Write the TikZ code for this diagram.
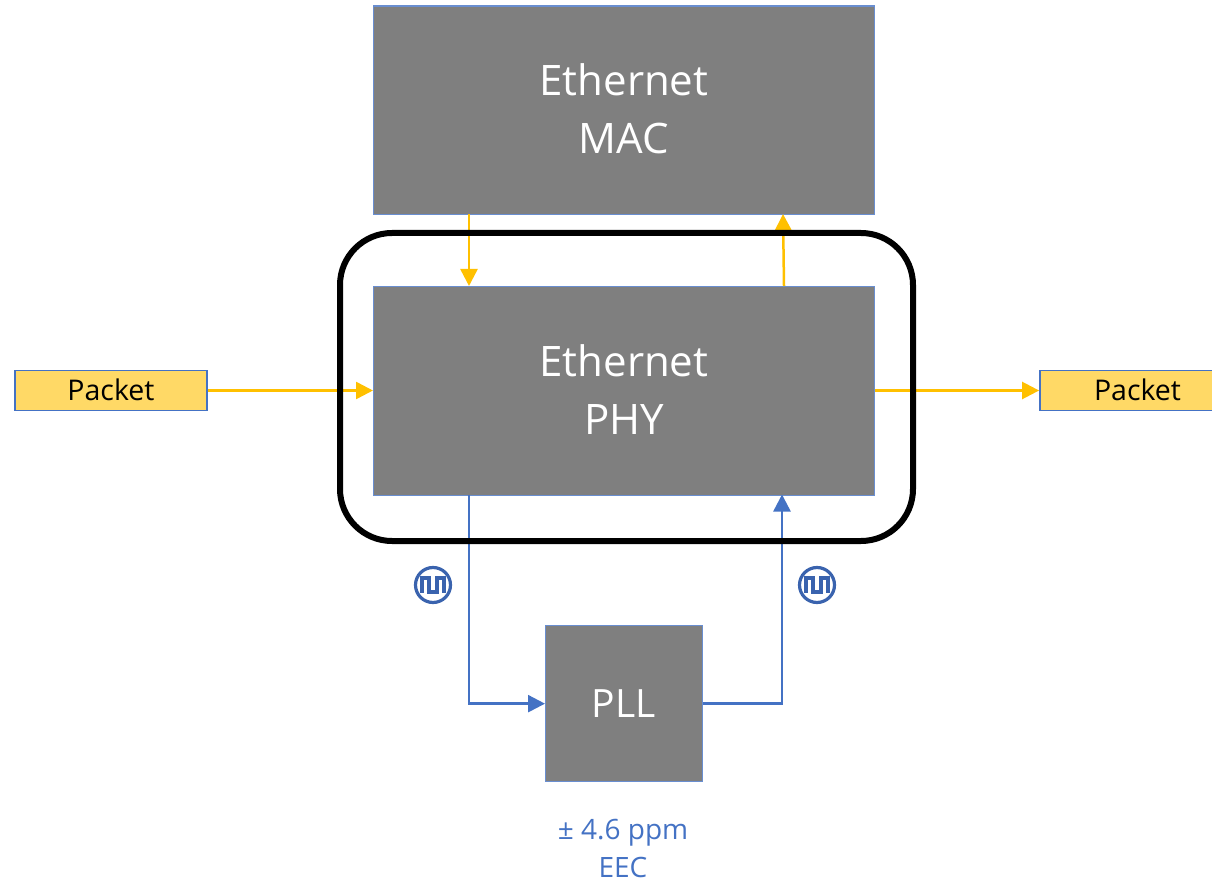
\documentclass[tikz,border=0pt]{standalone}
\usepackage{fontspec}
\setmainfont{Open Sans}
\usetikzlibrary{arrows.meta}
\definecolor{boxgray}{HTML}{7F7F7F}
\definecolor{edgeblue}{HTML}{4472C4}
\definecolor{iconblue}{HTML}{3A63AE}
\definecolor{gold}{HTML}{FFC000}
\definecolor{pktfill}{HTML}{FFD966}
\tikzset{
  x=1pt,y=-1pt,
  graybox/.style={draw=edgeblue!80!white,line width=1.3pt,fill=boxgray,text=white,font=\fontsize{42}{58}\selectfont,align=center,inner sep=0pt,anchor=north west},
  packet/.style={draw=edgeblue,line width=1.8pt,fill=pktfill,text=black,font=\fontsize{28.5}{30}\selectfont,inner sep=0pt,minimum height=40pt},
  goldline/.style={draw=gold,line width=2.5pt,-{Triangle[length=17pt,width=17pt]}},
  blueline/.style={draw=edgeblue,line width=2.5pt,-{Triangle[length=17pt,width=17pt]}},
  frameline/.style={draw=black,line width=6pt,rounded corners=52pt},
  clockicon/.pic={
    \draw[iconblue,line width=3.2pt] (0,0) circle[radius=17.5];
    \draw[iconblue,line width=3.2pt,line join=miter] (-11,8) -- (-11,-7) -- (-4,-7) -- (-4,7) -- (4,7) -- (4,-7) -- (11,-7) -- (11,8);
  }
}
\begin{document}
\begin{tikzpicture}
\useasboundingbox (0,0) rectangle (1212,882);
\node[graybox,minimum width=500.5pt,minimum height=208.5pt] (mac) at (373,5.5) {\raisebox{3.5pt}{Ethernet}\\\raisebox{3.5pt}{MAC}};
\node[graybox,minimum width=500.5pt,minimum height=208.5pt] (phy) at (373,286) {\raisebox{2pt}{Ethernet}\\\raisebox{2pt}{PHY}};
\node[graybox,minimum width=156.5pt,minimum height=156pt,font=\fontsize{39}{58}\selectfont] (pll) at (545,625) {PLL};
\node[packet,minimum width=192pt] (pktl) at (111,390.5) {\raisebox{1pt}{Packet}};
\node[packet,minimum width=195pt] (pktr) at (1137.5,390.5) {\raisebox{1pt}{Packet}};
\node[text=edgeblue,font=\fontsize{28}{38}\selectfont,align=center] (eec) at (623,848) {± 4.6 ppm\\EEC};
\coordinate (macdown) at (469,214);
\coordinate (phydown) at (469,286);
\coordinate (phyup) at (784,286);
\coordinate (macup) at (783,214);
\coordinate (phyclkout) at (469,494.5);
\coordinate (phyclkin) at (782,494.5);
\draw[goldline] (macdown) -- (phydown);
\draw[goldline] (phyup) -- (macup);
\draw[goldline] (pktl.east) -- (phy.west |- pktl.east);
\draw[goldline] (phy.east |- pktr.west) -- (pktr.west);
\draw[blueline] (phyclkout) |- (pll.west);
\draw[blueline] (pll.east) -| (phyclkin);
\draw[frameline] (340,233) rectangle (913,541);
\pic at (433,585) {clockicon};
\pic at (817,585) {clockicon};
\end{tikzpicture}
\end{document}
